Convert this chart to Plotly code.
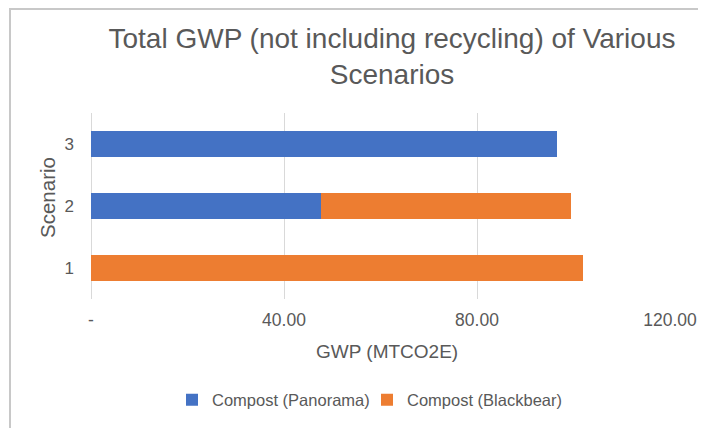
import plotly.graph_objects as go

scenarios = ["1", "2", "3"]
panorama = [0, 47.6, 96.6]
blackbear = [102.0, 51.8, 0]
tick_vals = [0, 40, 80, 120]
tick_text = ["-", "40.00", "80.00", "120.00"]

# page body has an 8px margin; figure coordinates = screen - 8
OFF = 8
W, H = 706 - OFF, 428 - OFF
L, T = 91 - OFF, 113 - OFF
R = W - (670 - OFF)
B = H - (299 - OFF)
pw, ph = W - L - R, H - T - B

def px(x):
    return (x - OFF - L) / pw

def py(y):
    return 1 - (y - OFF - T) / ph

fig = go.Figure()
fig.add_trace(go.Bar(y=scenarios, x=panorama, orientation="h", name="Compost (Panorama)",
                     marker=dict(color="#4472C4", line=dict(width=0))))
fig.add_trace(go.Bar(y=scenarios, x=blackbear, orientation="h", name="Compost (Blackbear)",
                     marker=dict(color="#ED7D31", line=dict(width=0))))

txt = "#595959"
fig.update_layout(
    width=W, height=H,
    margin=dict(l=L, r=R, t=T, b=B, autoexpand=False),
    barmode="stack", bargap=0.58,
    plot_bgcolor="white", paper_bgcolor="white",
    font=dict(family="Liberation Sans, Arial", color=txt, size=15),
    title=dict(text="Total GWP (not including recycling) of Various<br>Scenarios",
               x=(392 - OFF) / W, xanchor="center", xref="container",
               y=1 - (48 - OFF) / H, yanchor="middle", yref="container",
               font=dict(size=28, color=txt)),
    xaxis=dict(range=[0, 120], tickvals=tick_vals, ticktext=tick_text,
               showgrid=True, gridcolor="#D9D9D9", gridwidth=1,
               zeroline=True, zerolinecolor="#D9D9D9", zerolinewidth=1,
               showline=False, ticks="", ticklabelstandoff=8,
               tickfont=dict(size=17.5, color=txt)),
    yaxis=dict(range=[-0.5, 2.5], showgrid=False, zeroline=False, showline=False,
               ticks="", ticklabelstandoff=16, tickfont=dict(size=17, color=txt)),
    legend=dict(orientation="h", x=(367 - OFF) / W, xanchor="center", xref="container",
                y=1 - (400 - OFF) / H, yanchor="middle", yref="container",
                font=dict(size=16.5, color=txt), traceorder="normal",
                itemwidth=30, entrywidth=150, entrywidthmode="pixels"),
    annotations=[
        dict(text="GWP (MTCO2E)", xref="paper", yref="paper", x=px(387), y=py(351),
             xanchor="center", yanchor="middle", showarrow=False,
             font=dict(size=19, color=txt)),
        dict(text="Scenario", xref="paper", yref="paper", x=px(47.5), y=py(197.5),
             xanchor="center", yanchor="middle", showarrow=False, textangle=-90,
             font=dict(size=20.5, color=txt)),
    ],
    shapes=[
        dict(type="line", xref="paper", yref="paper", x0=px(10), x1=px(10), y0=py(8), y1=py(428),
             line=dict(color="#C8C8C8", width=2)),
        dict(type="line", xref="paper", yref="paper", x0=px(10), x1=px(706), y0=py(9), y1=py(9),
             line=dict(color="#C8C8C8", width=2)),
    ],
)

fig.write_html("out.html")
